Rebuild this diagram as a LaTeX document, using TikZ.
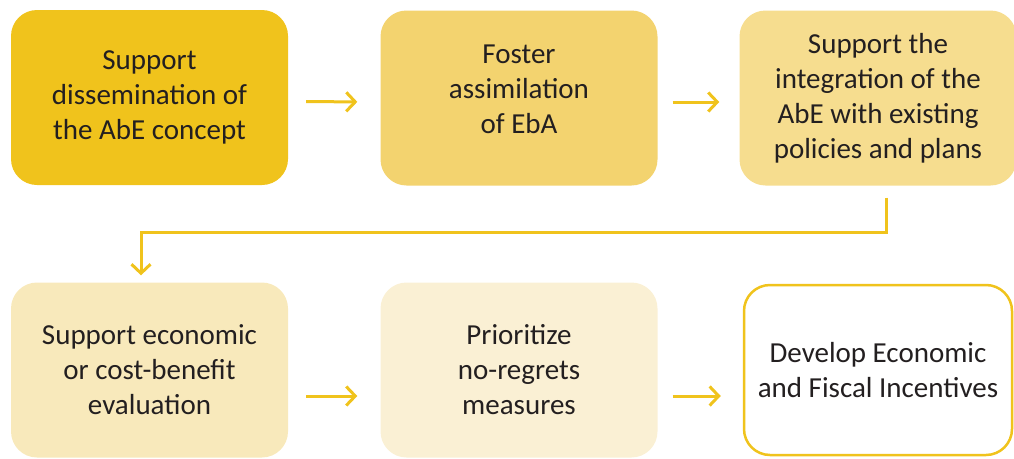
\documentclass[tikz,border=0pt]{standalone}
\usepackage{fontspec}
\setmainfont{Carlito}
\usepackage{tikz}
\usetikzlibrary{arrows.meta,positioning}
\definecolor{gold}{HTML}{F0C31C}
\definecolor{goldA}{HTML}{F3D36F}
\definecolor{goldB}{HTML}{F6DD8F}
\definecolor{goldC}{HTML}{F8E9BB}
\definecolor{goldD}{HTML}{FAF0D4}
\definecolor{ink}{HTML}{231F20}

\begin{document}
\begin{tikzpicture}[x=1pt, y=1pt, >={Straight Barb[length=9pt,width=19pt,line width=3pt]}]
   \useasboundingbox (0,0) rectangle (1014,-458);
   \begin{scope}[every node/.style={rectangle, rounded corners=26pt, minimum width=277pt,
        minimum height=175pt, align=center, text=ink, font=\fontsize{29}{35}\selectfont}]
    \node (b1) [fill=gold] at (149.5,-97.5) {Support\\dissemination of\\the AbE concept};
    \node (b2) [fill=goldA] at (519,-98) {Foster\\assimilation\\of EbA\\[-18pt]\mbox{}};
    \node (b3) [fill=goldB] at (878,-98) {Support the\\integration of the\\AbE with existing\\policies and plans};
    \node (b4) [fill=goldC] at (149.5,-370) {Support economic\\or cost-benefit\\evaluation};
    \node (b5) [fill=goldD] at (519,-370) {Prioritize\\no-regrets\\measures};
    \node (b6) [fill=white, draw=gold, line width=2.5pt, minimum width=268pt, minimum height=170pt]
        at (878,-370) {Develop Economic\\and Fiscal Incentives};
   \end{scope}
   \begin{scope}[->, draw=gold, line width=3pt]
    \draw [shorten <=18pt, shorten >=23pt] ([yshift=-4pt]b1.east) -- ([yshift=-4pt]b2.west);
    \draw [shorten <=15pt, shorten >=20pt] ([yshift=-4pt]b2.east) -- ([yshift=-4pt]b3.west);
    \draw [shorten <=18pt, shorten >=23pt] ([yshift=-26pt]b4.east) -- ([yshift=-26pt]b5.west);
    \draw [shorten <=15pt, shorten >=22pt] ([yshift=-26pt]b5.east) -- ([yshift=-26pt]b6.west);
    \draw [shorten <=12pt, shorten >=7pt] ([xshift=8pt]b3.south) -- ++(0,-47) -| ([xshift=-8.5pt]b4.north);
   \end{scope}
\end{tikzpicture}
\end{document}
